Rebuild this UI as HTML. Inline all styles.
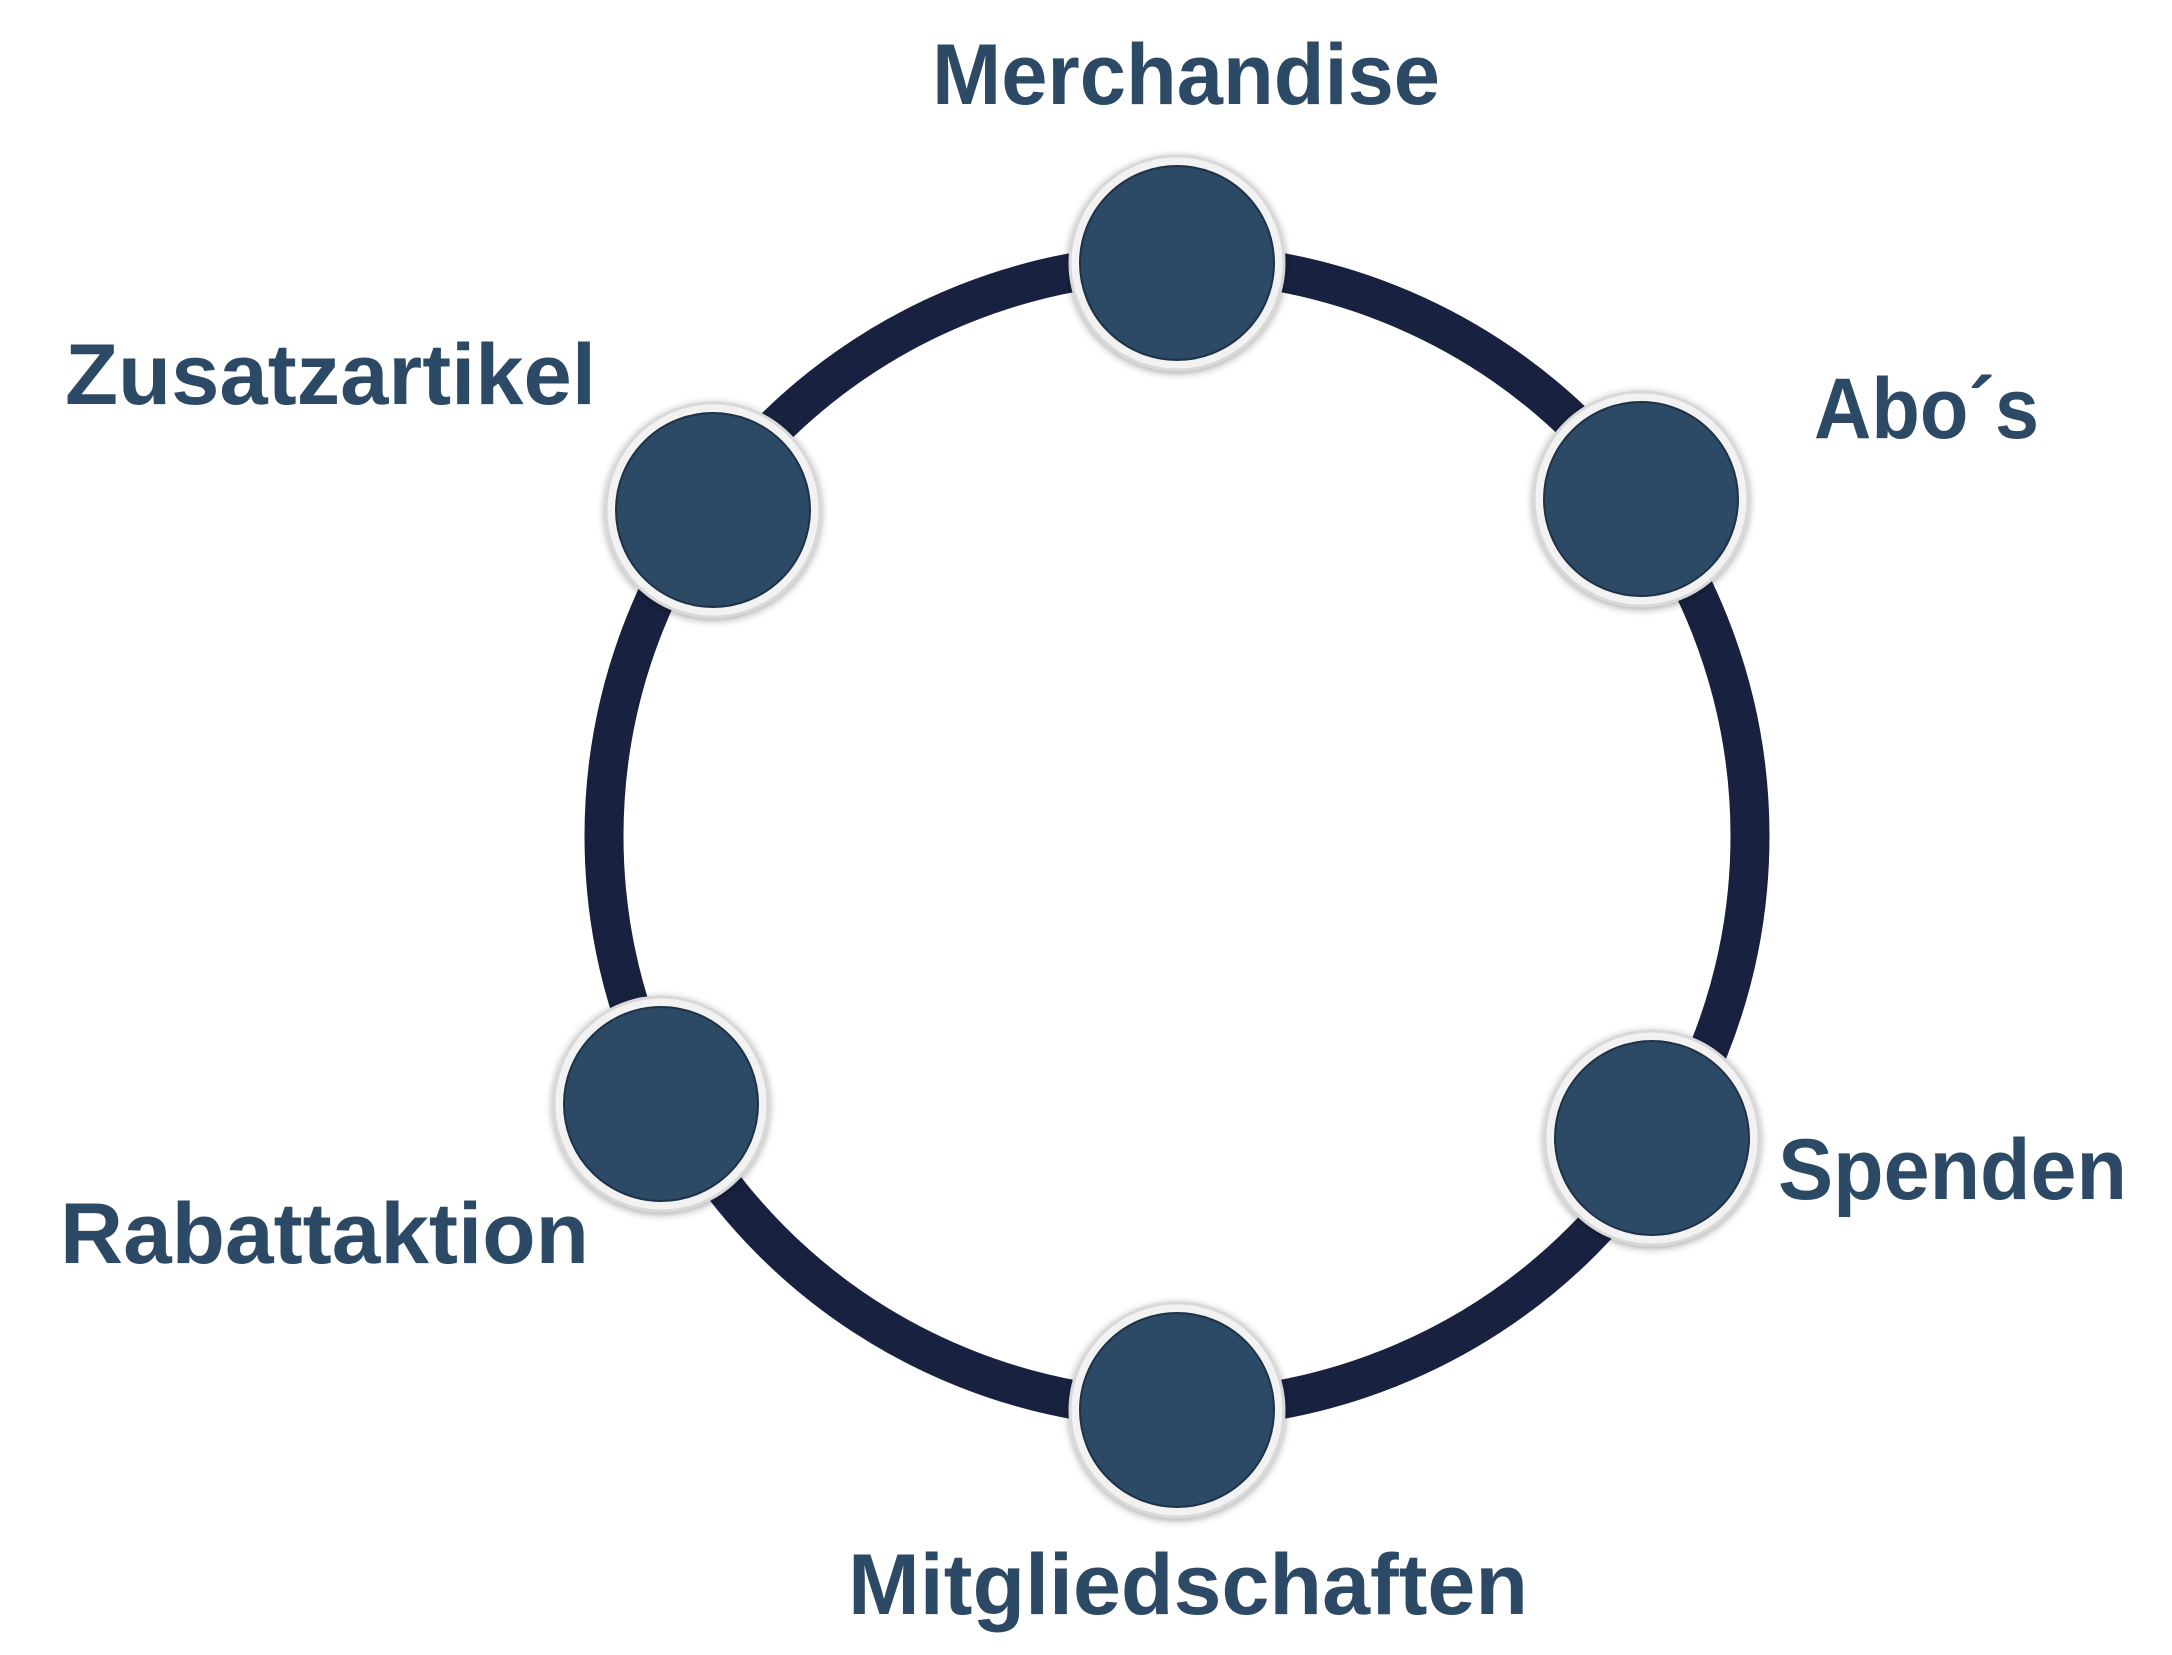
<!DOCTYPE html>
<html><head><meta charset="utf-8"><style>
html,body{margin:0;padding:0;background:#fff;}
svg{display:block;}
text{font-family:"Liberation Sans","DejaVu Sans",sans-serif;font-weight:bold;fill:#2c4a66;font-size:86px;}
</style></head><body>
<svg width="2172" height="1655" viewBox="0 0 2172 1655" xmlns="http://www.w3.org/2000/svg">
<defs>
<filter id="sh" x="-30%" y="-30%" width="160%" height="160%">
<feDropShadow dx="0" dy="2" stdDeviation="4" flood-color="#000" flood-opacity="0.35"/>
</filter>
</defs>
<circle cx="1177" cy="836" r="573" fill="none" stroke="#18213f" stroke-width="39"/>
<g filter="url(#sh)">
<circle cx="1177" cy="263" r="107" fill="#f2f2f2" stroke="#d8d8d8" stroke-width="3"/>
<circle cx="1641" cy="499" r="107" fill="#f2f2f2" stroke="#d8d8d8" stroke-width="3"/>
<circle cx="1652" cy="1138" r="107" fill="#f2f2f2" stroke="#d8d8d8" stroke-width="3"/>
<circle cx="1177" cy="1410" r="107" fill="#f2f2f2" stroke="#d8d8d8" stroke-width="3"/>
<circle cx="661" cy="1104" r="107" fill="#f2f2f2" stroke="#d8d8d8" stroke-width="3"/>
<circle cx="713" cy="510" r="107" fill="#f2f2f2" stroke="#d8d8d8" stroke-width="3"/>
</g>
<g fill="#2c4a66" stroke="#1e3146" stroke-width="2">
<circle cx="1177" cy="263" r="97"/>
<circle cx="1641" cy="499" r="97"/>
<circle cx="1652" cy="1138" r="97"/>
<circle cx="1177" cy="1410" r="97"/>
<circle cx="661" cy="1104" r="97"/>
<circle cx="713" cy="510" r="97"/>
</g>
<text x="932" y="104" textLength="508" lengthAdjust="spacingAndGlyphs">Merchandise</text>
<text x="65" y="404" textLength="531" lengthAdjust="spacingAndGlyphs">Zusatzartikel</text>
<text x="1814" y="438" textLength="225" lengthAdjust="spacingAndGlyphs">Abo´s</text>
<text x="1778" y="1199" textLength="349" lengthAdjust="spacingAndGlyphs">Spenden</text>
<text x="60" y="1263" textLength="529" lengthAdjust="spacingAndGlyphs">Rabattaktion</text>
<text x="848" y="1614" textLength="680" lengthAdjust="spacingAndGlyphs">Mitgliedschaften</text>
</svg>
</body></html>
